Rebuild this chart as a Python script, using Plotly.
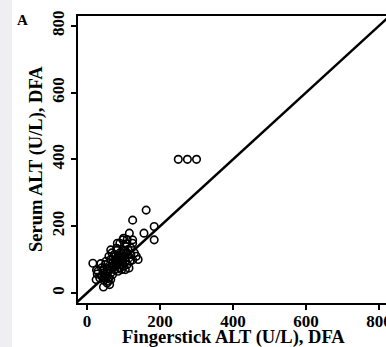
import plotly.graph_objects as go

# Data
fingerstick_alt = [16, 26, 28, 25, 45, 47, 65, 40, 50, 55, 60, 35, 45, 55, 60, 50, 40, 65, 70, 75,
                   70, 65, 60, 65, 75, 80, 85, 80, 90, 95, 85, 90, 95, 100, 105, 100, 110, 110, 115, 120,
                   83, 98, 83, 98, 125, 125, 116, 156, 184, 184, 125, 162, 125, 100, 108, 90, 81, 105, 112, 120,
                   75, 70, 55, 48, 62, 58, 85, 95, 105, 115, 92, 78, 88, 102, 95, 118, 68, 72, 52, 45,
                   30, 38, 58, 130, 135, 140, 82, 110, 250, 275, 300]
serum_alt = [89, 69, 57, 40, 18, 38, 40, 50, 55, 30, 45, 45, 60, 70, 80, 85, 75, 60, 55, 70,
             90, 100, 110, 129, 115, 100, 90, 80, 75, 85, 110, 120, 100, 110, 95, 80, 85, 120, 105, 115,
             149, 129, 129, 159, 159, 149, 179, 179, 199, 159, 218, 248, 99, 164, 147, 149, 134, 140, 130, 135,
             85, 75, 50, 45, 25, 65, 65, 70, 70, 75, 95, 95, 105, 125, 115, 95, 120, 108, 95, 70,
             65, 88, 35, 120, 110, 100, 72, 160, 400, 400, 400]
identity_line = [-40, 900]
tick_vals = [0, 200, 400, 600, 800]
tick_text = ["0", "200", "400", "600", "800"]
x_title = "Fingerstick ALT (U/L), DFA"
y_title = "Serum ALT (U/L), DFA"
panel_label = "A"

W, H = 386, 347
L, T, R, B = 78, 16, 0, 44
pw = W - L - R
ph = H - T - B

font_family = "Liberation Serif"


def px_x(p):
    return (p - L) / pw


def px_y(p):
    return 1 - (p - T) / ph


fig = go.Figure()
fig.add_trace(go.Scatter(x=identity_line, y=identity_line, mode="lines",
                         line=dict(color="black", width=2.5), hoverinfo="skip", showlegend=False))
fig.add_trace(go.Scatter(x=fingerstick_alt, y=serum_alt, mode="markers",
                         marker=dict(symbol="circle-open", size=7.5, color="black",
                                     line=dict(width=1.6, color="black")),
                         showlegend=False))

fig.update_layout(
    width=W, height=H,
    margin=dict(l=L, r=R, t=T, b=B, pad=0),
    paper_bgcolor="white", plot_bgcolor="white",
    font=dict(family=font_family, color="black"),
    xaxis=dict(range=[-24.7, 819], tickvals=tick_vals, ticktext=tick_text,
               showgrid=False, zeroline=False, showline=True, linecolor="black", linewidth=2,
               mirror=True, ticks="outside", ticklen=5, tickwidth=2, tickcolor="black",
               ticklabeloverflow="allow", ticklabelstandoff=-3,
               tickfont=dict(size=17, family=font_family, weight="bold"), automargin=False),
    yaxis=dict(range=[-30, 829], tickvals=tick_vals, ticktext=tick_text, tickangle=-90,
               showgrid=False, zeroline=False, showline=True, linecolor="black", linewidth=2,
               ticks="outside", ticklen=5, tickwidth=2, tickcolor="black",
               ticklabeloverflow="allow",
               tickfont=dict(size=17, family=font_family, weight="bold"), automargin=False),
    shapes=[dict(type="rect", xref="paper", yref="paper",
                 x0=px_x(0), x1=px_x(12), y0=px_y(H + 5), y1=px_y(-5),
                 fillcolor="#efeef2", line=dict(width=0), layer="below")],
    annotations=[
        dict(text="<b>" + panel_label + "</b>", xref="paper", yref="paper", x=px_x(22), y=px_y(20),
             xanchor="center", yanchor="middle", showarrow=False,
             font=dict(size=15, family=font_family, color="black")),
        dict(text="<b>" + x_title + "</b>", xref="paper", yref="paper", x=px_x(233), y=px_y(337),
             xanchor="center", yanchor="middle", showarrow=False,
             font=dict(size=18.5, family=font_family, color="black")),
        dict(text="<b>" + y_title + "</b>", xref="paper", yref="paper", x=px_x(36), y=px_y(159),
             xanchor="center", yanchor="middle", showarrow=False, textangle=-90,
             font=dict(size=18.5, family=font_family, color="black")),
    ],
)

fig.write_html("out.html", config={"displayModeBar": False},
               post_script="document.body.style.margin='0px';document.body.style.overflow='hidden';")
